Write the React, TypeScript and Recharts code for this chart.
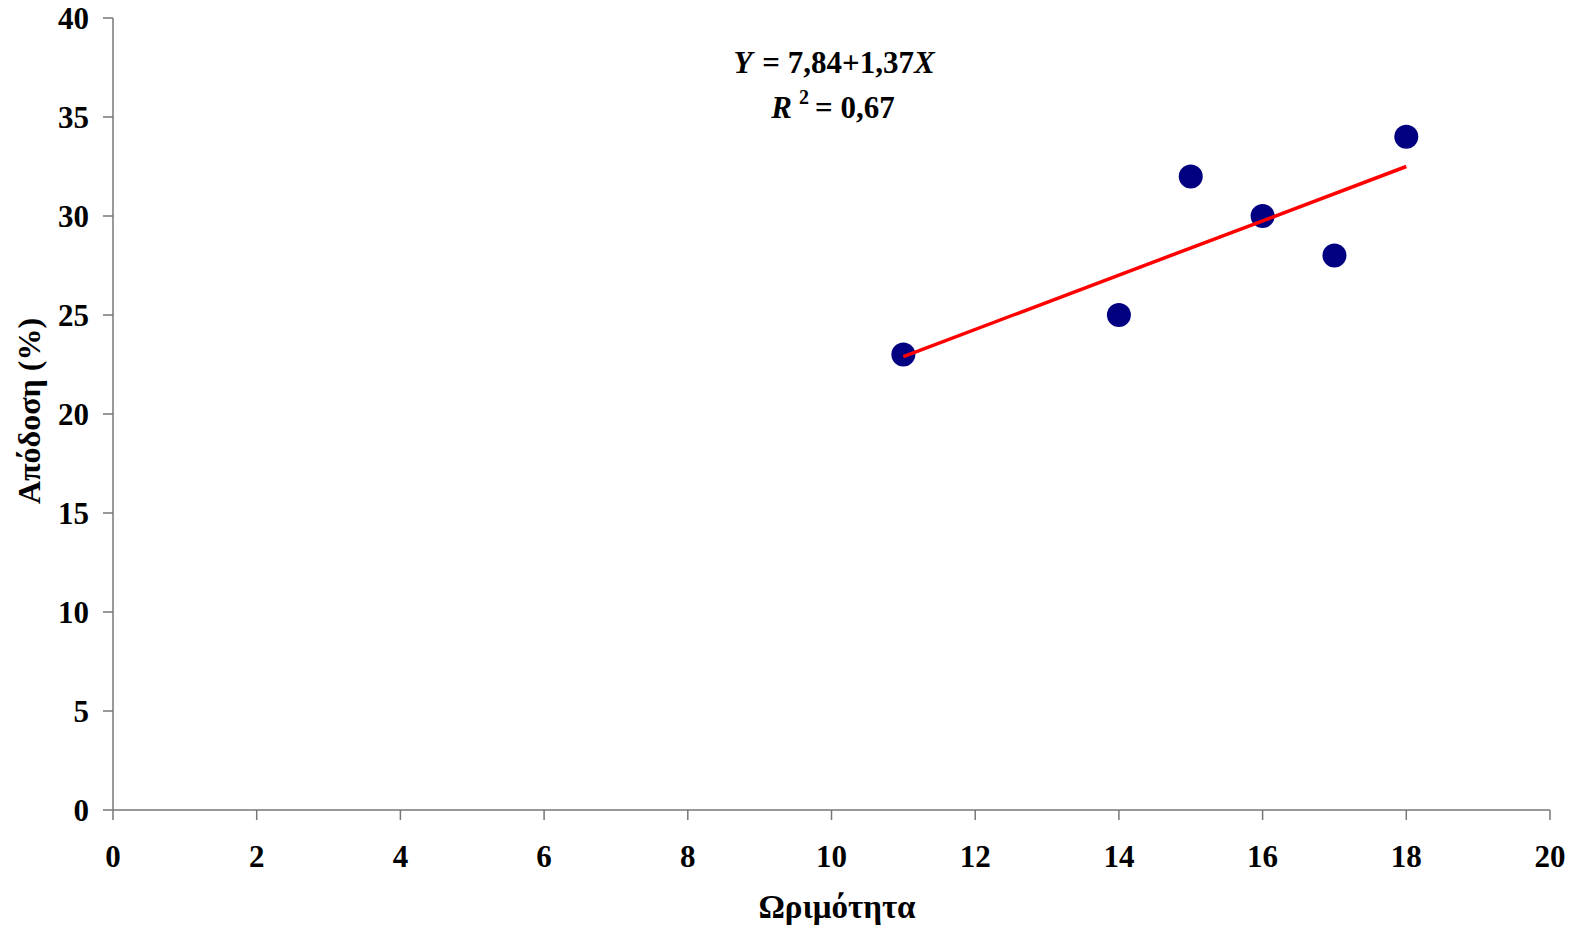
import { Scatter, ScatterChart, XAxis, YAxis } from 'recharts';

// Ωριμότητα (x) και Απόδοση % (y)
const maturity = [11, 14, 15, 16, 17, 18];
const yieldPct = [23, 25, 32, 30, 28, 34];

// τα δύο άκρα της γραμμής τάσης, όπως φαίνονται στο γράφημα
const trendX = [11, 18];
const trendY = [22.9, 32.5];

const xTicks = [0, 2, 4, 6, 8, 10, 12, 14, 16, 18, 20];
const yTicks = [0, 5, 10, 15, 20, 25, 30, 35, 40];

const points = maturity.map((x, i) => ({ x, y: yieldPct[i] }));
const trend = trendX.map((x, i) => ({ x, y: trendY[i] }));

const FONT = "'Liberation Serif', 'Times New Roman', serif";
const AXIS = '#777777';

const tickStyle = { fill: '#000', fontSize: 31, fontWeight: 700, fontFamily: FONT };

export default function App() {
  return (
    <div style={{ position: 'absolute', left: 0, top: 0, width: 1574, height: 927, background: '#fff' }}>
      <ScatterChart width={1574} height={927} margin={{ top: 18, right: 24, left: 0, bottom: 0 }}>
        <XAxis
          type="number"
          dataKey="x"
          domain={[0, 20]}
          ticks={xTicks}
          interval={0}
          height={117}
          tickSize={10}
          tickMargin={25}
          tick={tickStyle}
          axisLine={{ stroke: AXIS, strokeWidth: 1.5 }}
          tickLine={{ stroke: AXIS, strokeWidth: 1.5 }}
        />
        <YAxis
          type="number"
          dataKey="y"
          domain={[0, 40]}
          ticks={yTicks}
          interval={0}
          width={113}
          tickSize={10}
          tickMargin={14}
          tick={tickStyle}
          axisLine={{ stroke: AXIS, strokeWidth: 1.5 }}
          tickLine={{ stroke: AXIS, strokeWidth: 1.5 }}
        />
        <Scatter
          data={points}
          fill="#000080"
          isAnimationActive={false}
          shape={(p: any) => <circle cx={p.cx} cy={p.cy} r={12} fill="#000080" />}
        />
        <Scatter
          data={trend}
          isAnimationActive={false}
          line={{ stroke: '#ff0000', strokeWidth: 3.5 }}
          shape={() => <g />}
        />
      </ScatterChart>
      <svg
        width={1574}
        height={927}
        style={{ position: 'absolute', left: 0, top: 0, pointerEvents: 'none' }}
        fontFamily={FONT}
        fontWeight={700}
        fontSize={31}
      >
        <text x={834} y={73} textAnchor="middle" xmlSpace="preserve">
          <tspan fontStyle="italic">Y</tspan>
          <tspan dx={10}>{'= 7,84+1,37'}</tspan>
          <tspan fontStyle="italic">X</tspan>
        </text>
        <text x={833} y={118} textAnchor="middle">
          <tspan fontStyle="italic">R</tspan>
          <tspan dx={7} dy={-14} fontSize={20}>2</tspan>
          <tspan dx={6} dy={14}>{'= 0,67'}</tspan>
        </text>
        <text x={837} y={918} textAnchor="middle" fontSize={33}>Ωριμότητα</text>
        <text
          x={0}
          y={0}
          transform="translate(29,411) rotate(-90)"
          textAnchor="middle"
          dominantBaseline="central"
          fontSize={32}
        >
          Απόδοση (%)
        </text>
      </svg>
    </div>
  );
}
